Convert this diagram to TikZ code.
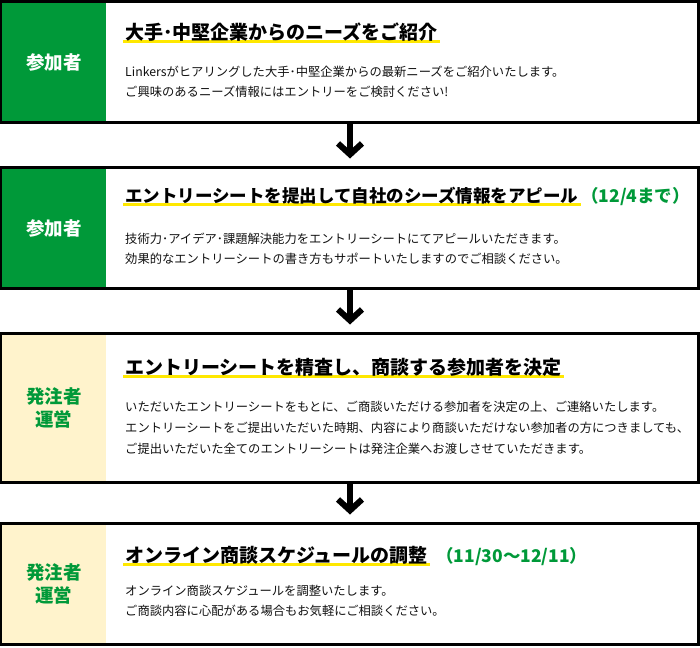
\documentclass[tikz,border=0pt]{standalone}
\usepackage{fontspec}
\setmainfont{Noto Sans CJK JP}
\usetikzlibrary{arrows.meta,backgrounds}
\definecolor{leafgreen}{RGB}{0,153,57}
\definecolor{cream}{RGB}{255,243,204}
\definecolor{marker}{RGB}{255,232,0}
\definecolor{ink}{RGB}{17,17,17}
\begin{document}
\begin{tikzpicture}[x=1pt, y=-1pt,
% common options for the step boxes:
stepbox/.style = {draw, line width=3pt, minimum width=697pt, inner sep=0},
% common options for the side panels:
panel/.style = {anchor=west, minimum width=104.5pt, inner sep=0, align=center,
            font=\bfseries\fontsize{18.5}{23}\selectfont},
% headings, dates and text lines:
head/.style = {anchor=base west, inner sep=0, font=\bfseries\fontsize{19}{19}\selectfont},
date/.style = {anchor=base west, inner sep=0, text=leafgreen, font=\bfseries\fontsize{17.5}{17.5}\selectfont},
textline/.style = {anchor=base west, inner sep=0, text=ink, font=\fontsize{12.3}{12.3}\selectfont},
hilite/.style = {draw=marker, line width=3pt},
flow/.style = {line width=6pt, -{Straight Barb[length=11pt,width=24pt,line width=6pt]}, shorten >=7.5pt}]
\useasboundingbox (0,0) rectangle (700,647);
% the four steps
\node[stepbox, minimum height=121pt] (s1) at (350,62) {};
\node[stepbox, minimum height=121pt] (s2) at (350,228) {};
\node[stepbox, minimum height=149pt] (s3) at (350,408) {};
\node[stepbox, minimum height=121pt] (s4) at (350,584) {};
\node[panel, fill=leafgreen, text=white, minimum height=118pt] (p1) at ([xshift=1.5pt]s1.west) {参加者};
\node[panel, fill=leafgreen, text=white, minimum height=118pt] (p2) at ([xshift=1.5pt]s2.west) {参加者};
\node[panel, fill=cream, text=leafgreen, minimum height=146pt] (p3) at ([xshift=1.5pt]s3.west) {発注者\\運営};
\node[panel, fill=cream, text=leafgreen, minimum height=118pt] (p4) at ([xshift=1.5pt]s4.west) {発注者\\運営};
% headings
\node[head] (t1) at (125,40) {大手･中堅企業からのニーズをご紹介};
\node[head, font=\bfseries\fontsize{17.5}{17.5}\selectfont] (t2) at (125,202.5) {エントリーシートを提出して自社のシーズ情報をアピール};
\node[head] (t3) at (125,374) {エントリーシートを精査し、商談する参加者を決定};
\node[head] (t4) at (125,562) {オンライン商談スケジュールの調整};
\node[date] (d2) at (581,202.5) {（12/4まで）};
\node[date] (d4) at (436,562) {（11/30～12/11）};
\begin{scope}[on background layer]
\draw[hilite] ([xshift=-2pt,yshift=-2pt]t1.base west) -- ([xshift=2pt,yshift=-2pt]t1.base east);
\draw[hilite] ([xshift=-2pt,yshift=-2pt]t2.base west) -- ([xshift=2pt,yshift=-2pt]t2.base east);
\draw[hilite] ([xshift=-2pt,yshift=-2pt]t3.base west) -- ([xshift=2pt,yshift=-2pt]t3.base east);
\draw[hilite] ([xshift=-2pt,yshift=-2pt]t4.base west) -- ([xshift=2pt,yshift=-2pt]t4.base east);
\end{scope}
% text lines
\node[textline] (l11) at (125,76.5) {Linkersがヒアリングした大手･中堅企業からの最新ニーズをご紹介いたします。};
\node[textline] (l12) at (125,96.5) {ご興味のあるニーズ情報にはエントリーをご検討ください!};
\node[textline] (l21) at (125,243.5) {技術力･アイデア･課題解決能力をエントリーシートにてアピールいただきます。};
\node[textline] (l22) at (125,263.5) {効果的なエントリーシートの書き方もサポートいたしますのでご相談ください。};
\node[textline] (l31) at (125,411.5) {いただいたエントリーシートをもとに、ご商談いただける参加者を決定の上、ご連絡いたします。};
\node[textline] (l32) at (125,432.5) {エントリーシートをご提出いただいた時期、内容により商談いただけない参加者の方につきましても、};
\node[textline] (l33) at (125,453) {ご提出いただいた全てのエントリーシートは発注企業へお渡しさせていただきます。};
\node[textline] (l41) at (125,595.5) {オンライン商談スケジュールを調整いたします。};
\node[textline] (l42) at (125,615.5) {ご商談内容に心配がある場合もお気軽にご相談ください。};
% arrows between the steps
\draw[flow] (s1.south) -- (s2.north);
\draw[flow] (s2.south) -- (s3.north);
\draw[flow] (s3.south) -- (s4.north);
\end{tikzpicture}
\end{document}
